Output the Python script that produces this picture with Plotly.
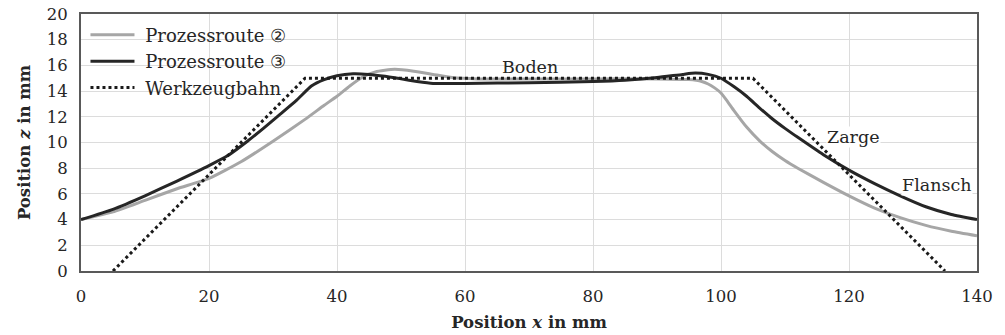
import plotly.graph_objects as go

# Prozessroute 2 (gray)
x_r2 = [0, 5, 10, 15, 20, 25, 30, 35, 38, 40, 42, 44, 46, 49, 52, 55, 58, 62, 70, 80, 90, 95,
        97, 98, 99, 100, 101, 102, 104, 106, 108, 110, 112, 116, 120, 124, 128, 132, 136, 140]
z_r2 = [4.0, 4.6, 5.5, 6.4, 7.2, 8.5, 10.1, 11.8, 12.9, 13.6, 14.4, 15.1, 15.5, 15.7, 15.55, 15.3, 15.05, 14.95, 14.95, 14.95, 14.95, 14.9,
        14.75, 14.55, 14.25, 13.85, 13.2, 12.5, 11.2, 10.15, 9.3, 8.6, 8.0, 6.9, 5.85, 4.9, 4.15, 3.55, 3.1, 2.75]

# Prozessroute 3 (black)
x_r3 = [0, 5, 10, 15, 20, 23, 26, 28.5, 31, 33.7, 36, 38, 40, 42.5, 45, 47.5, 50, 52.5, 55, 60, 70, 80, 85, 90,
        94, 96, 98, 100, 102, 104, 106, 108, 110, 112, 116, 120, 124, 128, 132, 136, 140]
z_r3 = [4.0, 4.8, 5.85, 7.0, 8.2, 9.0, 10.1, 11.1, 12.15, 13.3, 14.4, 14.9, 15.2, 15.35, 15.3, 15.15, 14.95, 14.75, 14.6, 14.6, 14.65, 14.75, 14.85, 15.05,
        15.3, 15.4, 15.3, 15.0, 14.35, 13.6, 12.7, 11.85, 11.1, 10.4, 9.05, 7.85, 6.8, 5.85, 5.0, 4.4, 4.0]

# Werkzeugbahn (tool path)
x_wz = [5, 35, 105, 135]
z_wz = [0, 15, 15, 0]

# Region labels
lbl_text = ["Boden", "Zarge", "Flansch"]
lbl_x = [70.2, 120.7, 139.4]
lbl_z = [15.9, 10.45, 6.7]
lbl_anchor = ["center", "center", "right"]

FONT = "DejaVu Serif"
TXT = "#262626"

fig = go.Figure()
fig.add_trace(go.Scatter(x=x_r2, y=z_r2, mode="lines", name=" Prozessroute ②",
                         line=dict(color="#a6a6a6", width=3, shape="spline", smoothing=0.5)))
fig.add_trace(go.Scatter(x=x_r3, y=z_r3, mode="lines", name=" Prozessroute ③",
                         line=dict(color="#262626", width=3, shape="spline", smoothing=0.5)))
fig.add_trace(go.Scatter(x=x_wz, y=z_wz, mode="lines", name=" Werkzeugbahn",
                         line=dict(color="#1a1a1a", width=3, dash="dot")))

for t, xx, zz, xa in zip(lbl_text, lbl_x, lbl_z, lbl_anchor):
    fig.add_annotation(x=xx, y=zz, text=t, showarrow=False, xanchor=xa,
                       bgcolor="white" if t != "Boden" else "rgba(0,0,0,0)",
                       font=dict(family=FONT, size=17.5, color=TXT), borderpad=0)

fig.update_layout(
    width=1005, height=335,
    margin=dict(l=81, r=28, t=14, b=64),
    paper_bgcolor="white", plot_bgcolor="white",
    font=dict(family=FONT, size=17, color=TXT),
    showlegend=True,
    legend=dict(x=0.005, y=0.99, xanchor="left", yanchor="top", bgcolor="rgba(0,0,0,0)",
                font=dict(family=FONT, size=18, color=TXT), itemwidth=44,
                tracegroupgap=0),
)
fig.update_xaxes(range=[0, 140], dtick=20, tick0=0, showgrid=True, gridcolor="#dcdcdc", gridwidth=1,
                 showline=True, linecolor="#595959", linewidth=2, mirror=True, zeroline=False,
                 ticks="", ticklabelstandoff=9, automargin=False,
                 tickfont=dict(family=FONT, size=16.5, color=TXT),
                 title=dict(text="<b>Position <i>x</i> in mm</b>", standoff=12,
                            font=dict(family=FONT, size=16.5, color=TXT)))
fig.update_yaxes(range=[0, 20], dtick=2, tick0=0, showgrid=True, gridcolor="#dcdcdc", gridwidth=1,
                 showline=True, linecolor="#595959", linewidth=2, mirror=True, zeroline=False,
                 ticks="", ticklabelstandoff=8, automargin=False,
                 tickfont=dict(family=FONT, size=16.5, color=TXT),
                 title=dict(text="<b>Position <i>z</i> in mm</b>", standoff=12,
                            font=dict(family=FONT, size=16.5, color=TXT)))

fig.write_html("out.html")
